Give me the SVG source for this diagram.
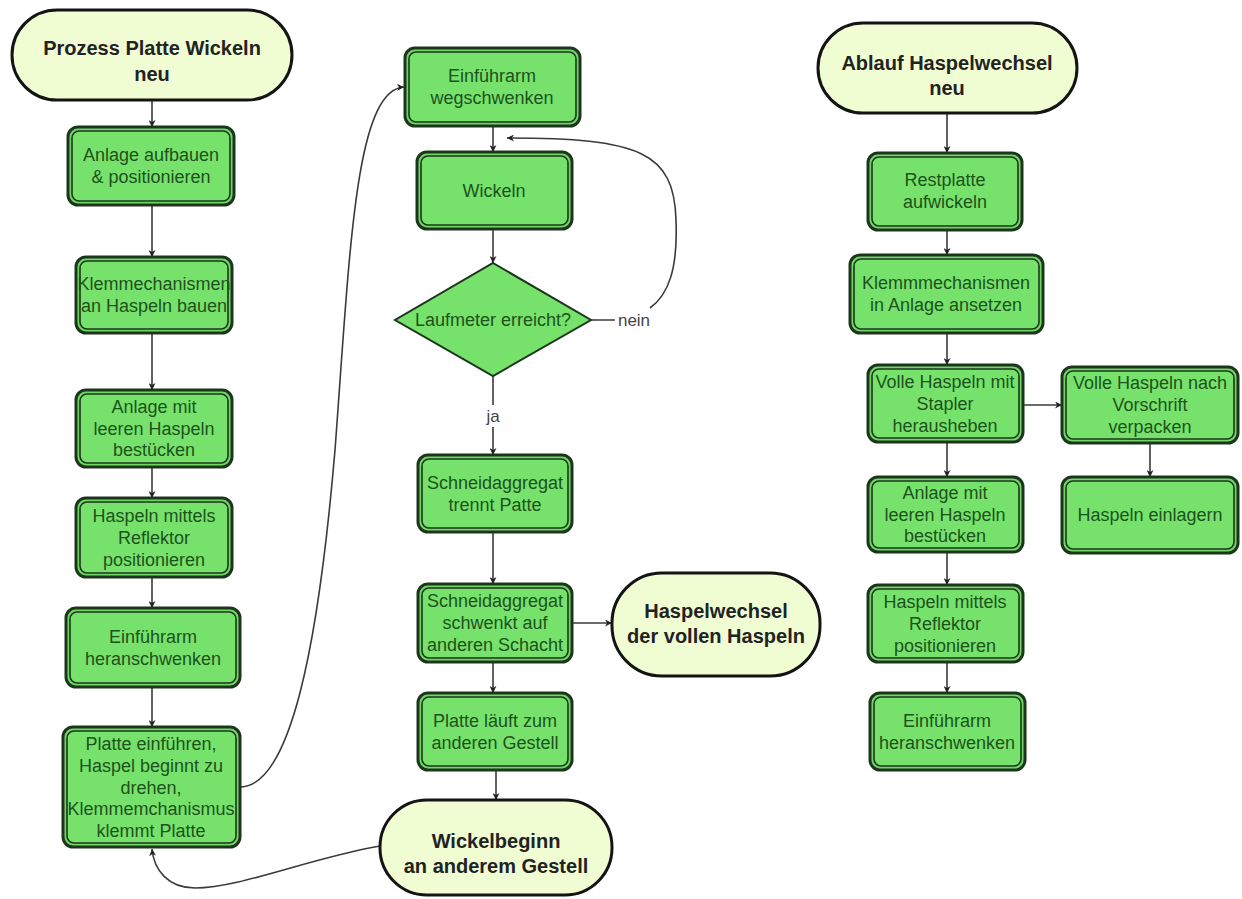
<svg xmlns="http://www.w3.org/2000/svg" width="1242" height="899" viewBox="0 0 1242 899">
<style>
.po{fill:#6fd865;stroke:#1c361c;stroke-width:3}
.pi{fill:#77e26b;stroke:#1c361c;stroke-width:1.6}
.pt{font-family:"Liberation Sans",Arial,sans-serif;font-size:18px;fill:#1c521c;text-anchor:middle}
.term{fill:#f0fcd2;stroke:#141414;stroke-width:3}
.tt{font-family:"Liberation Sans",Arial,sans-serif;font-size:20px;font-weight:bold;fill:#222;text-anchor:middle}
.c{fill:none;stroke:#3a3a3a;stroke-width:1.6}
.lbl{font-family:"Liberation Sans",Arial,sans-serif;font-size:17px;fill:#444;text-anchor:middle}
</style>
<defs>
<marker id="ah" viewBox="0 0 10 10" refX="10" refY="5" markerWidth="7" markerHeight="7" orient="auto" markerUnits="userSpaceOnUse">
<path d="M0,0 L10,5 L0,10 L3,5 z" fill="#222"/>
</marker>
</defs>
<rect width="1242" height="899" fill="#ffffff"/>

<g id="connectors">
<path class="c" d="M152,100 V127" marker-end="url(#ah)"/>
<path class="c" d="M152,205 V257" marker-end="url(#ah)"/>
<path class="c" d="M152,333 V390" marker-end="url(#ah)"/>
<path class="c" d="M152,467 V498" marker-end="url(#ah)"/>
<path class="c" d="M152,577 V608" marker-end="url(#ah)"/>
<path class="c" d="M152,687 V727" marker-end="url(#ah)"/>
<path class="c" d="M241,787 C290,785 318,650 335,450 C350,250 355,90 404,87" marker-end="url(#ah)"/>
<path class="c" d="M380,846 C310,858 240,888 195,888 C168,888 154,870 152,849" marker-end="url(#ah)"/>
<path class="c" d="M493,126 V152" marker-end="url(#ah)"/>
<path class="c" d="M493,229 V263" marker-end="url(#ah)"/>
<path class="c" d="M591,320 L615,320 M650,308 C668,295 678,270 676,220 C674,152 640,138 507,138" marker-end="url(#ah)"/>
<path class="c" d="M493,376 V455" marker-end="url(#ah)"/>
<path class="c" d="M493,532 V584" marker-end="url(#ah)"/>
<path class="c" d="M572,623 H612" marker-end="url(#ah)"/>
<path class="c" d="M493,662 V693" marker-end="url(#ah)"/>
<path class="c" d="M496,770 V800" marker-end="url(#ah)"/>
<path class="c" d="M947,113 V153" marker-end="url(#ah)"/>
<path class="c" d="M947,230 V255" marker-end="url(#ah)"/>
<path class="c" d="M947,333 V365" marker-end="url(#ah)"/>
<path class="c" d="M1023,405 H1062" marker-end="url(#ah)"/>
<path class="c" d="M1150,443 V477" marker-end="url(#ah)"/>
<path class="c" d="M947,442 V477" marker-end="url(#ah)"/>
<path class="c" d="M947,552 V585" marker-end="url(#ah)"/>
<path class="c" d="M947,662 V693" marker-end="url(#ah)"/>
<text class="lbl" x="634" y="326">nein</text>
<rect x="484" y="405" width="18" height="22" fill="#fff"/>
<text class="lbl" x="493" y="422">ja</text>
</g>

<g id="start1">
<rect class="term" x="12" y="10" width="280" height="90" rx="45"/>
<text class="tt" x="152" y="55">Prozess Platte Wickeln</text>
<text class="tt" x="152" y="81">neu</text>
</g>
<g id="p1">
<rect class="po" x="68" y="127" width="166" height="78" rx="10"/>
<rect class="pi" x="72" y="131" width="158" height="70" rx="7"/>
<text class="pt" x="151" y="161">Anlage aufbauen</text>
<text class="pt" x="151" y="183">&amp; positionieren</text>
</g>
<g id="p2">
<rect class="po" x="76" y="257" width="156" height="76" rx="10"/>
<rect class="pi" x="80" y="261" width="148" height="68" rx="7"/>
<text class="pt" x="154" y="290">Klemmechanismen</text>
<text class="pt" x="154" y="312">an Haspeln bauen</text>
</g>
<g id="p3">
<rect class="po" x="76" y="390" width="156" height="77" rx="10"/>
<rect class="pi" x="80" y="394" width="148" height="69" rx="7"/>
<text class="pt" x="154" y="413">Anlage mit</text>
<text class="pt" x="154" y="435">leeren Haspeln</text>
<text class="pt" x="154" y="456">bestücken</text>
</g>
<g id="p4">
<rect class="po" x="76" y="498" width="156" height="79" rx="10"/>
<rect class="pi" x="80" y="502" width="148" height="71" rx="7"/>
<text class="pt" x="154" y="522">Haspeln mittels</text>
<text class="pt" x="154" y="544">Reflektor</text>
<text class="pt" x="154" y="566">positionieren</text>
</g>
<g id="p5">
<rect class="po" x="66" y="608" width="174" height="79" rx="10"/>
<rect class="pi" x="70" y="612" width="166" height="71" rx="7"/>
<text class="pt" x="153" y="643">Einführarm</text>
<text class="pt" x="153" y="665">heranschwenken</text>
</g>
<g id="p6">
<rect class="po" x="63" y="727" width="177" height="120" rx="10"/>
<rect class="pi" x="67" y="731" width="169" height="112" rx="7"/>
<text class="pt" x="151" y="750">Platte einführen,</text>
<text class="pt" x="151" y="772">Haspel beginnt zu</text>
<text class="pt" x="151" y="794">drehen,</text>
<text class="pt" x="151" y="815">Klemmemchanismus</text>
<text class="pt" x="151" y="837">klemmt Platte</text>
</g>

<g id="m1">
<rect class="po" x="405" y="48" width="175" height="78" rx="10"/>
<rect class="pi" x="409" y="52" width="167" height="70" rx="7"/>
<text class="pt" x="492" y="82">Einführarm</text>
<text class="pt" x="492" y="104">wegschwenken</text>
</g>
<g id="m2">
<rect class="po" x="417" y="152" width="155" height="77" rx="10"/>
<rect class="pi" x="421" y="156" width="147" height="69" rx="7"/>
<text class="pt" x="494" y="197">Wickeln</text>
</g>
<g id="m3">
<polygon points="493,263 591,320 493,376 395,320" fill="#77e26b" stroke="#1c361c" stroke-width="2"/>
<text class="pt" x="493" y="326">Laufmeter erreicht?</text>
</g>
<g id="m4">
<rect class="po" x="418" y="455" width="154" height="77" rx="10"/>
<rect class="pi" x="422" y="459" width="146" height="69" rx="7"/>
<text class="pt" x="495" y="489">Schneidaggregat</text>
<text class="pt" x="495" y="511">trennt Patte</text>
</g>
<g id="m5">
<rect class="po" x="418" y="584" width="154" height="78" rx="10"/>
<rect class="pi" x="422" y="588" width="146" height="70" rx="7"/>
<text class="pt" x="495" y="607">Schneidaggregat</text>
<text class="pt" x="495" y="629">schwenkt auf</text>
<text class="pt" x="495" y="651">anderen Schacht</text>
</g>
<g id="t2">
<rect class="term" x="612" y="573" width="208" height="103" rx="50"/>
<text class="tt" x="716" y="618">Haspelwechsel</text>
<text class="tt" x="716" y="643">der vollen Haspeln</text>
</g>
<g id="m6">
<rect class="po" x="418" y="693" width="154" height="77" rx="10"/>
<rect class="pi" x="422" y="697" width="146" height="69" rx="7"/>
<text class="pt" x="495" y="727">Platte läuft zum</text>
<text class="pt" x="495" y="749">anderen Gestell</text>
</g>
<g id="t3">
<rect class="term" x="380" y="800" width="232" height="95" rx="47"/>
<text class="tt" x="496" y="848">Wickelbeginn</text>
<text class="tt" x="496" y="873">an anderem Gestell</text>
</g>

<g id="start2">
<rect class="term" x="818" y="23" width="259" height="90" rx="45"/>
<text class="tt" x="947" y="70">Ablauf Haspelwechsel</text>
<text class="tt" x="947" y="95">neu</text>
</g>
<g id="r1">
<rect class="po" x="868" y="153" width="154" height="77" rx="10"/>
<rect class="pi" x="872" y="157" width="146" height="69" rx="7"/>
<text class="pt" x="945" y="186">Restplatte</text>
<text class="pt" x="945" y="208">aufwickeln</text>
</g>
<g id="r2">
<rect class="po" x="850" y="255" width="193" height="78" rx="10"/>
<rect class="pi" x="854" y="259" width="185" height="70" rx="7"/>
<text class="pt" x="946" y="289">Klemmmechanismen</text>
<text class="pt" x="946" y="311">in Anlage ansetzen</text>
</g>
<g id="r3">
<rect class="po" x="868" y="365" width="155" height="77" rx="10"/>
<rect class="pi" x="872" y="369" width="147" height="69" rx="7"/>
<text class="pt" x="945" y="388">Volle Haspeln mit</text>
<text class="pt" x="945" y="410">Stapler</text>
<text class="pt" x="945" y="432">herausheben</text>
</g>
<g id="r4">
<rect class="po" x="1062" y="367" width="176" height="76" rx="10"/>
<rect class="pi" x="1066" y="371" width="168" height="68" rx="7"/>
<text class="pt" x="1150" y="389">Volle Haspeln nach</text>
<text class="pt" x="1150" y="411">Vorschrift</text>
<text class="pt" x="1150" y="433">verpacken</text>
</g>
<g id="r5">
<rect class="po" x="1062" y="477" width="176" height="76" rx="10"/>
<rect class="pi" x="1066" y="481" width="168" height="68" rx="7"/>
<text class="pt" x="1150" y="521">Haspeln einlagern</text>
</g>
<g id="r6">
<rect class="po" x="868" y="477" width="155" height="75" rx="10"/>
<rect class="pi" x="872" y="481" width="147" height="67" rx="7"/>
<text class="pt" x="945" y="499">Anlage mit</text>
<text class="pt" x="945" y="521">leeren Haspeln</text>
<text class="pt" x="945" y="542">bestücken</text>
</g>
<g id="r7">
<rect class="po" x="868" y="585" width="155" height="77" rx="10"/>
<rect class="pi" x="872" y="589" width="147" height="69" rx="7"/>
<text class="pt" x="945" y="608">Haspeln mittels</text>
<text class="pt" x="945" y="630">Reflektor</text>
<text class="pt" x="945" y="652">positionieren</text>
</g>
<g id="r8">
<rect class="po" x="870" y="693" width="155" height="77" rx="10"/>
<rect class="pi" x="874" y="697" width="147" height="69" rx="7"/>
<text class="pt" x="947" y="727">Einführarm</text>
<text class="pt" x="947" y="749">heranschwenken</text>
</g>
</svg>
